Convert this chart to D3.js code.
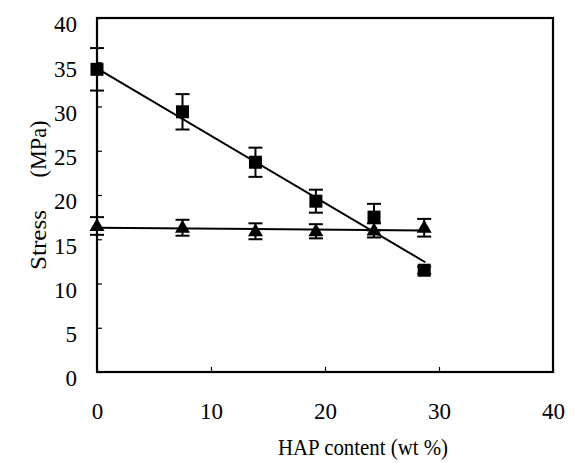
<!DOCTYPE html>
<html>
<head>
<meta charset="utf-8">
<script src="https://cdn.jsdelivr.net/npm/d3@7"></script>
<style>
  html, body { margin: 0; padding: 0; background: #fff; }
</style>
</head>
<body>
<div id="chart"></div>
<script>
// HAP content (wt %)
var hapContent = [0, 7.5, 13.9, 19.2, 24.3, 28.7];
// square series: stress and error
var squareStress = [34.2, 29.4, 23.7, 19.3, 17.5, 11.5];
var squareErr = [2.4, 2.0, 1.65, 1.3, 1.5, 0.4];
// triangle series
var triStress = [16.5, 16.3, 15.9, 15.9, 16.0, 16.3];
var triErr = [1.0, 0.9, 0.9, 0.8, 0.8, 1.0];
// trend lines (endpoints)
var squareFit = [[0, 34.3], [28.8, 12.4]];
var triFit = [[0, 16.3], [28.7, 16.0]];

var xTicks = [0, 10, 20, 30, 40];
var yTicks = [0, 5, 10, 15, 20, 25, 30, 35, 40];

var FONT = '"Liberation Serif", "DejaVu Serif", serif';
var W = 574, H = 463;
var margin = {left: 97, top: 18, right: 21, bottom: 91};
var w = W - margin.left - margin.right,
    h = H - margin.top - margin.bottom;

var svg = d3.select("#chart").append("svg")
    .attr("width", W).attr("height", H);

var xScale = d3.scaleLinear().domain([0, 40]).range([0, w]);
var yScale = d3.scaleLinear().domain([0, 40]).range([h, 0]);

var g = svg.append("g")
    .attr("transform", "translate(" + margin.left + "," + margin.top + ")");

// axes with inward ticks
var xAxis = g.append("g")
    .attr("transform", "translate(0," + h + ")")
    .call(d3.axisBottom(xScale).tickValues(xTicks).tickSizeInner(-5).tickSizeOuter(0).tickPadding(0));
xAxis.select(".domain").remove();
xAxis.selectAll("line").attr("stroke", "#000").attr("stroke-width", 1.2);
xAxis.selectAll("text")
    .attr("y", 47).attr("dy", 0)
    .attr("fill", "#000")
    .style("font-family", FONT)
    .style("font-size", "23px");

var yAxis = g.append("g")
    .call(d3.axisLeft(yScale).tickValues(yTicks).tickSizeInner(-5).tickSizeOuter(0).tickPadding(0));
yAxis.select(".domain").remove();
yAxis.selectAll("line").attr("stroke", "#000").attr("stroke-width", 1.2);
yAxis.selectAll("text")
    .attr("x", -20).attr("dy", "0.6em")
    .attr("fill", "#000")
    .style("font-family", FONT)
    .style("font-size", "23px");

// frame
g.append("rect")
    .attr("x", 0).attr("y", 0).attr("width", w).attr("height", h)
    .attr("fill", "none").attr("stroke", "#000").attr("stroke-width", 2.2);

// trend lines
var line = d3.line().x(d => xScale(d[0])).y(d => yScale(d[1]));
[triFit, squareFit].forEach(function(f) {
    g.append("path").attr("d", line(f))
        .attr("fill", "none").attr("stroke", "#000").attr("stroke-width", 2);
});

// error bars
function errorBars(ys, errs) {
    var eg = g.append("g").attr("stroke", "#000").attr("stroke-width", 2);
    hapContent.forEach(function(x, i) {
        var cx = xScale(x), top = yScale(ys[i] + errs[i]), bot = yScale(ys[i] - errs[i]);
        eg.append("line").attr("x1", cx).attr("x2", cx).attr("y1", top).attr("y2", bot);
        eg.append("line").attr("x1", cx - 7).attr("x2", cx + 7).attr("y1", top).attr("y2", top);
        eg.append("line").attr("x1", cx - 7).attr("x2", cx + 7).attr("y1", bot).attr("y2", bot);
    });
}
errorBars(triStress, triErr);
errorBars(squareStress, squareErr);

// triangles
g.selectAll(".tri").data(hapContent).enter().append("path")
    .attr("class", "tri")
    .attr("d", "M0,-8L7.5,5L-7.5,5Z")
    .attr("transform", (d, i) => "translate(" + xScale(d) + "," + yScale(triStress[i]) + ")")
    .attr("fill", "#000");

// squares
g.selectAll(".sq").data(hapContent).enter().append("rect")
    .attr("class", "sq")
    .attr("x", d => xScale(d) - 6.5)
    .attr("y", (d, i) => yScale(squareStress[i]) - 6.5)
    .attr("width", 13).attr("height", 13)
    .attr("fill", "#000");

// axis titles
svg.append("text")
    .attr("x", 363).attr("y", 455)
    .attr("text-anchor", "middle")
    .attr("textLength", 170).attr("lengthAdjust", "spacingAndGlyphs")
    .attr("fill", "#000")
    .style("font-family", FONT)
    .style("font-size", "24px")
    .text("HAP content (wt %)");

// y title, two words with the wide gap of the original
var yTitle = [["Stress", 240, 60], ["(MPa)", 149, 57]];
yTitle.forEach(function(t) {
    svg.append("text")
        .attr("transform", "translate(46," + t[1] + ") rotate(-90)")
        .attr("text-anchor", "middle")
        .attr("textLength", t[2]).attr("lengthAdjust", "spacingAndGlyphs")
        .attr("fill", "#000")
        .style("font-family", FONT)
        .style("font-size", "23px")
        .text(t[0]);
});
</script>
</body>
</html>
